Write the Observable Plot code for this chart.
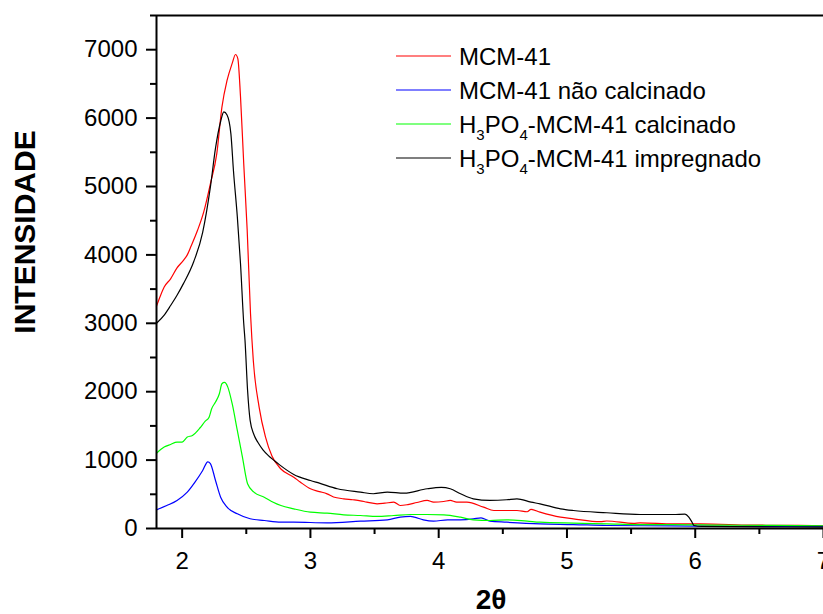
<!DOCTYPE html>
<html>
<head>
<meta charset="utf-8">
<script src="https://cdn.jsdelivr.net/npm/d3@7"></script>
<script src="https://cdn.jsdelivr.net/npm/@observablehq/plot@0.6"></script>
<style>
html, body { margin: 0; padding: 0; background: #fff; overflow: hidden; }
#chart { position: relative; width: 823px; height: 614px; overflow: hidden; }
</style>
</head>
<body>
<div id="chart"></div>
<script>
// ---- data ----
const seriesNames = ["MCM-41", "MCM-41 não calcinado", "H3PO4-MCM-41 calcinado", "H3PO4-MCM-41 impregnado"];
const seriesColors = ["#ff0000", "#0000ff", "#00ff00", "#000000"];

const mcm41 = [[1.80,3250],[1.83,3400],[1.86,3530],[1.91,3650],[1.96,3810],[2.01,3920],[2.04,4000],[2.07,4130],[2.12,4360],[2.17,4640],[2.22,5040],[2.27,5480],[2.31,6160],[2.35,6550],[2.39,6800],[2.416,6930],[2.434,6870],[2.455,6310],[2.48,5335],[2.507,4360],[2.533,3140],[2.555,2450],[2.60,1775],[2.65,1336],[2.70,1060],[2.77,870],[2.87,750],[2.92,680],[3.00,580],[3.07,540],[3.13,507],[3.18,460],[3.26,434],[3.33,420],[3.39,405],[3.44,385],[3.52,361],[3.58,370],[3.65,385],[3.70,336],[3.76,350],[3.83,380],[3.91,410],[3.96,385],[4.04,395],[4.09,410],[4.14,385],[4.22,385],[4.35,312],[4.43,263],[4.48,263],[4.61,263],[4.69,245],[4.72,280],[4.79,239],[4.95,166],[5.05,142],[5.26,100],[5.31,110],[5.52,75],[5.57,83],[5.83,68],[6.04,68],[6.43,50],[6.8,45],[7.0,40]];

const mcm41NaoCalcinado = [[1.80,273],[1.88,336],[1.96,410],[2.04,531],[2.10,677],[2.16,848],[2.20,975],[2.22,950],[2.26,702],[2.30,458],[2.35,312],[2.43,215],[2.53,142],[2.64,117],[2.77,92],[2.87,92],[3.13,83],[3.39,107],[3.60,127],[3.70,166],[3.78,176],[3.81,166],[3.88,127],[3.96,107],[4.07,127],[4.17,127],[4.27,140],[4.33,156],[4.40,107],[4.53,92],[4.79,68],[5.05,58],[5.31,44],[5.6,40],[6.0,35],[6.5,30],[7.0,30]];

const h3po4Calcinado = [[1.80,1100],[1.86,1190],[1.91,1229],[1.96,1263],[2.00,1263],[2.04,1336],[2.08,1360],[2.14,1473],[2.18,1570],[2.21,1628],[2.23,1751],[2.26,1848],[2.29,1970],[2.31,2117],[2.33,2135],[2.356,2067],[2.39,1824],[2.43,1434],[2.47,1043],[2.51,654],[2.56,531],[2.64,458],[2.71,385],[2.77,336],[2.87,288],[3.00,239],[3.13,224],[3.26,200],[3.39,190],[3.52,176],[3.65,190],[3.78,205],[3.91,205],[4.04,200],[4.17,166],[4.27,127],[4.40,117],[4.53,127],[4.69,107],[4.79,92],[5.05,78],[5.31,68],[5.57,58],[5.83,58],[6.2,50],[6.6,45],[7.0,40]];

const h3po4Impregnado = [[1.80,3000],[1.86,3120],[1.91,3260],[1.96,3410],[2.01,3580],[2.09,3900],[2.16,4330],[2.22,4990],[2.26,5560],[2.30,5950],[2.325,6090],[2.35,6045],[2.38,5770],[2.40,5230],[2.43,4560],[2.455,3870],[2.48,3000],[2.49,2750],[2.51,2020],[2.53,1580],[2.56,1370],[2.59,1260],[2.63,1150],[2.67,1070],[2.72,990],[2.76,930],[2.87,790],[3.00,702],[3.07,663],[3.21,581],[3.39,531],[3.49,508],[3.60,531],[3.73,516],[3.91,581],[4.02,600],[4.09,581],[4.17,508],[4.27,434],[4.40,410],[4.53,420],[4.61,434],[4.72,385],[4.79,361],[4.95,288],[5.05,263],[5.31,230],[5.57,205],[5.83,205],[5.92,210],[5.95,166],[5.975,92],[5.99,44],[6.05,30],[7.0,20]];

const seriesValues = [mcm41, mcm41NaoCalcinado, h3po4Calcinado, h3po4Impregnado];

const xDomain = [1.8, 7.0];
const yDomain = [0, 7500];
const xTicks = [2, 3, 4, 5, 6, 7];
const xMinorTicks = [2.5, 3.5, 4.5, 5.5, 6.5];
const yTicks = [0, 1000, 2000, 3000, 4000, 5000, 6000, 7000];
const yMinorTicks = [500, 1500, 2500, 3500, 4500, 5500, 6500, 7500];
const xLabel = "2θ";
const yLabel = "INTENSIDADE";

// ---- table ----
const rows = [];
seriesValues.forEach((s, i) => s.forEach(([x, y]) => rows.push({x, y, series: seriesNames[i]})));

const FONT = "'Liberation Sans', Arial, Helvetica, sans-serif";

const plot = Plot.plot({
  width: 823,
  height: 614,
  marginLeft: 156,
  marginRight: 0,
  marginTop: 15,
  marginBottom: 86,
  style: {fontFamily: FONT, fontSize: "24px", color: "#000", background: "#fff"},
  x: {domain: xDomain},
  y: {domain: yDomain},
  color: {domain: seriesNames, range: seriesColors},
  marks: [
    Plot.axisX({ticks: xTicks, tickSize: 10, tickPadding: 13, tickFormat: d => String(d), label: null, strokeWidth: 2, fontSize: 24}),
    Plot.axisX({ticks: xMinorTicks, tickSize: 6, text: null, label: null, strokeWidth: 2}),
    Plot.axisY({ticks: yTicks, tickSize: 10, tickPadding: 9, tickFormat: d => String(d), label: null, strokeWidth: 2, fontSize: 24}),
    Plot.axisY({ticks: yMinorTicks, tickSize: 6, text: null, label: null, strokeWidth: 2}),
    Plot.line(rows, {x: "x", y: "y", z: "series", stroke: "series", strokeWidth: 1.2, curve: "monotone-x"}),
    Plot.ruleX([xDomain[0]], {stroke: "#000", strokeWidth: 2}),
    Plot.ruleY([yDomain[0]], {stroke: "#000", strokeWidth: 2}),
    Plot.ruleY([yDomain[1]], {stroke: "#000", strokeWidth: 2})
  ]
});

document.getElementById("chart").appendChild(plot);

const svg = d3.select(plot);

// ---- axis titles ----
svg.append("text")
  .attr("transform", "translate(35,232) rotate(-90)")
  .attr("text-anchor", "middle")
  .attr("font-family", FONT).attr("font-size", 30).attr("font-weight", "bold").attr("fill", "#000")
  .text(yLabel);

svg.append("text")
  .attr("x", 491).attr("y", 609)
  .attr("text-anchor", "middle")
  .attr("font-family", FONT).attr("font-size", 28).attr("font-weight", "bold").attr("fill", "#000")
  .text(xLabel);

// ---- legend ----
const lg = svg.append("g").attr("font-family", FONT).attr("font-size", 24).attr("fill", "#000").attr("text-anchor", "start");
seriesNames.forEach((name, i) => {
  const cy = 56 + i * 34;
  lg.append("line")
    .attr("x1", 396).attr("x2", 451).attr("y1", cy).attr("y2", cy)
    .attr("stroke", seriesColors[i]).attr("stroke-width", 1.2);
  const t = lg.append("text").attr("x", 459).attr("y", cy + 8.6).attr("text-anchor", "start");
  const m = name.match(/^H3PO4(.*)$/);
  if (m) {
    t.append("tspan").text("H");
    t.append("tspan").attr("font-size", 15).attr("dy", 7).text("3");
    t.append("tspan").attr("dy", -7).text("PO");
    t.append("tspan").attr("font-size", 15).attr("dy", 7).text("4");
    t.append("tspan").attr("dy", -7).text(m[1]);
  } else {
    t.text(name);
  }
});
</script>
</body>
</html>
